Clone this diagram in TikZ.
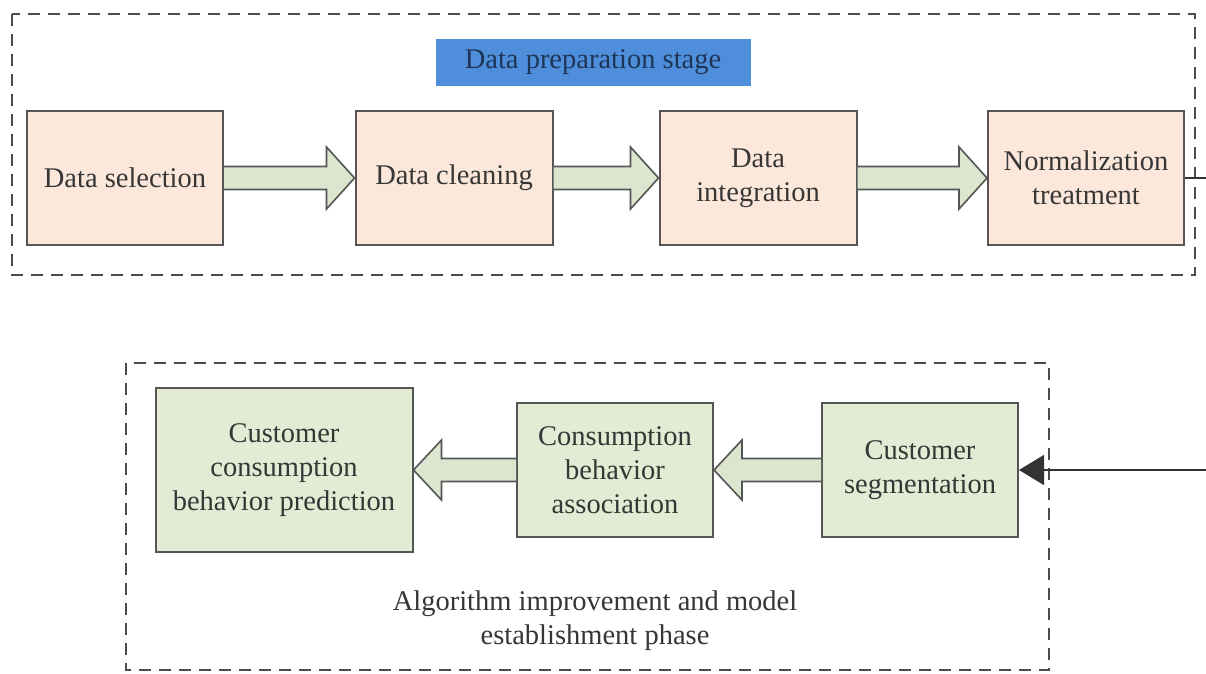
\documentclass[tikz,border=0pt]{standalone}
\usepackage{fontspec}
\setmainfont{Liberation Serif}
\usetikzlibrary{calc,arrows.meta}
\definecolor{peach}{HTML}{FCE8DA}
\definecolor{lgreen}{HTML}{E2EBD3}
\definecolor{agreen}{HTML}{DCE5CE}
\definecolor{bord}{HTML}{555555}
\definecolor{txt}{HTML}{363636}
\definecolor{bluefill}{HTML}{4F8EDB}
\definecolor{navy}{HTML}{1E3558}
\begin{document}
\begin{tikzpicture}[x=1pt,y=-1pt,
  font=\fontsize{28.5}{34}\selectfont,
  stagebox/.style={draw=bord,line width=2pt,align=center,text=txt,inner sep=0pt},
  peachbox/.style={stagebox,fill=peach},
  greenbox/.style={stagebox,fill=lgreen},
  barrow/.style={draw=bord,line width=1.6pt,fill=agreen,line join=miter},
  group/.style={draw=black!70,line width=2pt,dash pattern=on 12pt off 8pt},
  conn/.style={draw=black!80,line width=1.6pt}]
\useasboundingbox (0,0) rectangle (1206,673);
\clip (0,0) rectangle (1206,673);
\fill[white] (0,0) rectangle (1206,673);

% group frames
\draw[group] (12,14) rectangle (1195,275);
\draw[group] (126,363) rectangle (1049,670);

% title
\node[fill=bluefill,text=navy,minimum width=315pt,minimum height=47pt,inner sep=0pt] (title) at (593,62) {Data preparation stage};

% top row
\node[peachbox,minimum width=196pt,minimum height=134pt] (sel) at (125,178) {Data selection};
\node[peachbox,minimum width=197pt,minimum height=134pt] (cln) at (454,178) {Data cleaning};
\node[peachbox,minimum width=197pt,minimum height=134pt] (int) at (758,178) {Data\\integration};
\node[peachbox,minimum width=196pt,minimum height=134pt] (nrm) at (1086,178) {Normalization\\treatment};

% bottom row
\node[greenbox,minimum width=257pt,minimum height=164pt] (pred) at (284,470) {Customer\\consumption\\behavior prediction};
\node[greenbox,minimum width=196pt,minimum height=134pt] (assoc) at (615,470) {Consumption\\behavior\\association};
\node[greenbox,minimum width=196pt,minimum height=134pt] (seg) at (920,470) {Customer\\segmentation};

% phase label
\node[text=txt,align=center] (phase) at (595,621) {Algorithm improvement and model\\establishment phase};

% block arrows (rightwards)
\newcommand\rarr[2]{%
  \draw[barrow] ($(#1.east)+(0,-11.5)$) -- ($(#2.west)+(-28,-11.5)$) -- ($(#2.west)+(-28,-31)$) -- (#2.west)
    -- ($(#2.west)+(-28,31)$) -- ($(#2.west)+(-28,11.5)$) -- ($(#1.east)+(0,11.5)$);}
\newcommand\larr[2]{%
  \draw[barrow] ($(#1.west)+(0,-11.5)$) -- ($(#2.east)+(28,-11.5)$) -- ($(#2.east)+(28,-30)$) -- (#2.east)
    -- ($(#2.east)+(28,30)$) -- ($(#2.east)+(28,11.5)$) -- ($(#1.west)+(0,11.5)$);}
\rarr{sel}{cln}
\rarr{cln}{int}
\rarr{int}{nrm}
\larr{seg}{assoc}
\larr{assoc}{pred}

% connector
\coordinate (c1) at (1214,178);
\coordinate (c2) at (1214,470);
\draw[conn,-{Triangle[length=25pt,width=30pt]}] (nrm.east) -- (c1) -- (c2) -- (seg.east);
\end{tikzpicture}
\end{document}
